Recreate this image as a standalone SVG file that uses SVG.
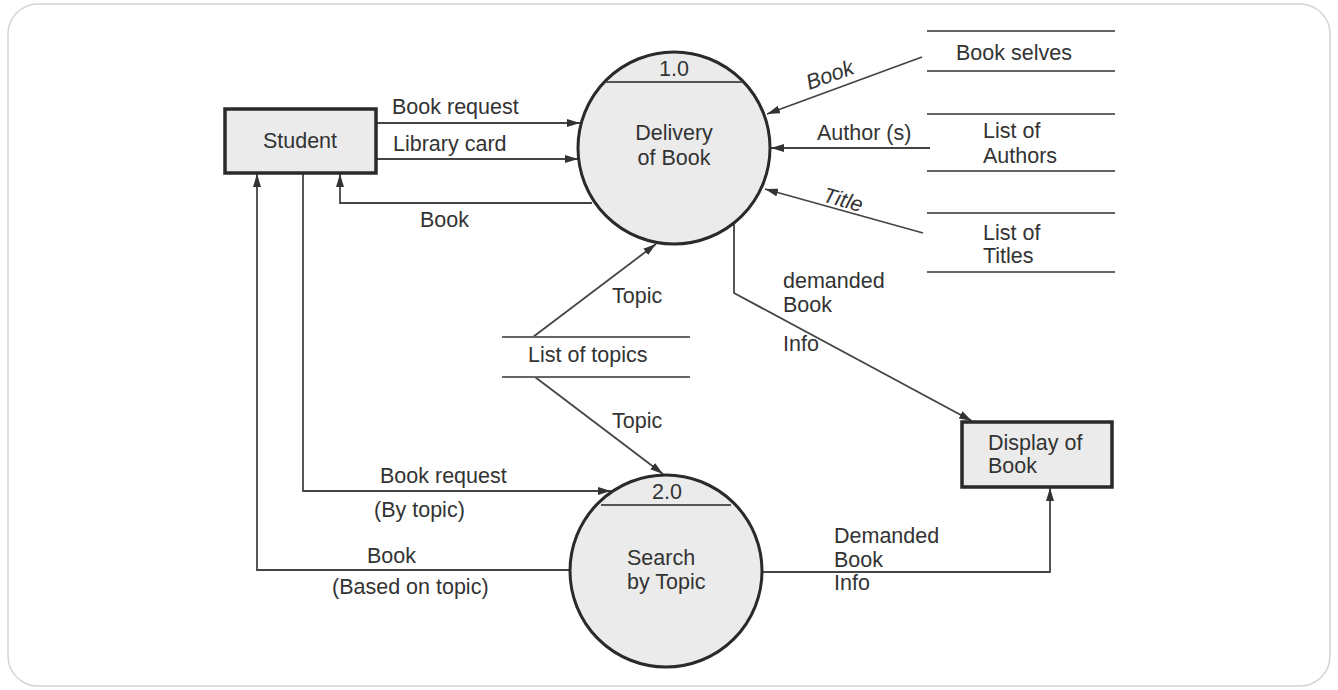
<svg xmlns="http://www.w3.org/2000/svg" width="1338" height="690" viewBox="0 0 1338 690">
<style>
text{font-family:"Liberation Sans",Arial,sans-serif;font-size:21.5px;fill:#333}
.proc{fill:#ebebeb;stroke:#2a2a2a;stroke-width:3}
.ent{fill:#ebebeb;stroke:#2a2a2a;stroke-width:3.5}
.sep{stroke:#555;stroke-width:2}
.store{stroke:#666;stroke-width:2.2}
.flow{fill:none;stroke:#444;stroke-width:1.8}
.fa{marker-end:url(#ah)}
.mid{text-anchor:middle}
</style>
<defs>
<marker id="ah" markerWidth="14" markerHeight="8" refX="13" refY="4" orient="auto" markerUnits="userSpaceOnUse">
<path d="M0,0 L13,4 L0,8 z" fill="#333"/>
</marker>
</defs>
<rect x="8" y="4" width="1322" height="682" rx="30" fill="#fff" stroke="#d4d4d4" stroke-width="1.5"/>

<g id="connectors">
<path class="flow fa" d="M376,123 H580"/>
<path class="flow fa" d="M376,159 H578"/>
<path class="flow fa" d="M592,203 H340 V174"/>
<path class="flow fa" d="M572,570 H257 V174"/>
<path class="flow fa" d="M303,173 V491 H611"/>
<path class="flow fa" d="M763,572 H1050 V488"/>
<path class="flow fa" d="M734,223 V293 L972,421"/>
<path class="flow fa" d="M533,337 L656,244"/>
<path class="flow fa" d="M535,377 L663,474"/>
<path class="flow fa" d="M922,57 L767,114"/>
<path class="flow fa" d="M930,148 H771"/>
<path class="flow fa" d="M923,233 L765,189"/>
<text x="392" y="114">Book request</text>
<text x="393" y="151">Library card</text>
<text x="420" y="227">Book</text>
<text class="mid" x="830" y="82" font-style="italic" transform="rotate(-20 830 75)">Book</text>
<text x="817" y="140">Author (s)</text>
<text class="mid" x="843" y="207" font-style="italic" transform="rotate(16 843 200)">Title</text>
<text x="612" y="303">Topic</text>
<text x="612" y="428">Topic</text>
<text x="783" y="288">demanded</text>
<text x="783" y="312">Book</text>
<text x="783" y="351">Info</text>
<text x="380" y="483">Book request</text>
<text x="374" y="517">(By topic)</text>
<text x="367" y="563">Book</text>
<text x="332" y="594">(Based on topic)</text>
<text x="834" y="543">Demanded</text>
<text x="834" y="567">Book</text>
<text x="834" y="590">Info</text>
</g>

<g id="student">
<rect class="ent" x="225" y="109" width="151" height="64"/>
<text class="mid" x="300" y="148">Student</text>
</g>

<g id="p1">
<circle class="proc" cx="674" cy="148" r="96"/>
<line class="sep" x1="606" y1="82" x2="742" y2="82"/>
<text class="mid" x="674" y="76">1.0</text>
<text class="mid" x="674" y="140">Delivery</text>
<text class="mid" x="674" y="165">of Book</text>
</g>

<g id="p2">
<circle class="proc" cx="666" cy="571" r="96"/>
<line class="sep" x1="601" y1="505" x2="731" y2="505"/>
<text class="mid" x="667" y="499">2.0</text>
<text x="627" y="565">Search</text>
<text x="627" y="589">by Topic</text>
</g>

<g id="display">
<rect class="ent" x="962" y="422" width="150" height="65"/>
<text x="988" y="450">Display of</text>
<text x="988" y="473">Book</text>
</g>

<g id="store-shelves">
<line class="store" x1="927" y1="31" x2="1115" y2="31"/>
<line class="store" x1="927" y1="71" x2="1115" y2="71"/>
<text x="956" y="60">Book selves</text>
</g>

<g id="store-authors">
<line class="store" x1="927" y1="114" x2="1115" y2="114"/>
<line class="store" x1="927" y1="171" x2="1115" y2="171"/>
<text x="983" y="138">List of</text>
<text x="983" y="163">Authors</text>
</g>

<g id="store-titles">
<line class="store" x1="927" y1="213" x2="1115" y2="213"/>
<line class="store" x1="927" y1="272" x2="1115" y2="272"/>
<text x="983" y="240">List of</text>
<text x="983" y="263">Titles</text>
</g>

<g id="store-topics">
<line class="store" x1="502" y1="337" x2="690" y2="337"/>
<line class="store" x1="502" y1="377" x2="690" y2="377"/>
<text x="528" y="362">List of topics</text>
</g>
</svg>
